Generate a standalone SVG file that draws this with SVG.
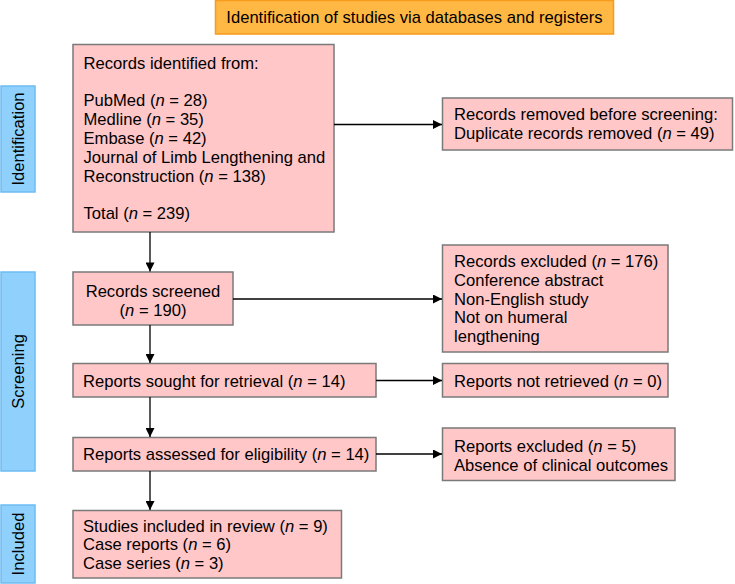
<svg xmlns="http://www.w3.org/2000/svg" width="735" height="584" viewBox="0 0 735 584">
<style>
text{font-family:"Liberation Sans",Arial,sans-serif;font-size:16.6px;fill:#000}
.box{fill:#ffc7c7;stroke:#7a7a7a;stroke-width:1.5}
.side{fill:#8fd0fd;stroke:#6cbcf3;stroke-width:1.5}
.title{fill:#ffb844;stroke:#f79a1e;stroke-width:1.5}
.conn{stroke:#000;stroke-width:1.3;fill:none;marker-end:url(#ah)}
.c{text-anchor:middle}
i,.it{font-style:italic}
</style>
<defs>
<marker id="ah" viewBox="0 0 10 10" refX="10" refY="5" markerWidth="10" markerHeight="9" markerUnits="userSpaceOnUse" orient="auto">
<path d="M0,0 L10,5 L0,10 Z" fill="#000"/>
</marker>
</defs>

<g id="title">
<rect class="title" x="215.5" y="0.5" width="398" height="33.5"/>
<text class="c" x="414.5" y="23">Identification of studies via databases and registers</text>
</g>

<g id="label-identification">
<rect class="side" x="1" y="86" width="34" height="106"/>
<text class="c" transform="translate(24,139) rotate(-90)">Identification</text>
</g>
<g id="label-screening">
<rect class="side" x="1" y="272" width="34" height="199"/>
<text class="c" transform="translate(24,371.5) rotate(-90)">Screening</text>
</g>
<g id="label-included">
<rect class="side" x="1" y="505" width="34" height="78"/>
<text class="c" transform="translate(24,544) rotate(-90)">Included</text>
</g>

<g id="records-identified">
<rect class="box" x="73" y="44.5" width="261" height="187.5"/>
<text x="83.5" y="69">Records identified from:</text>
<text x="83.5" y="106">PubMed (<tspan class="it">n</tspan> = 28)</text>
<text x="83.5" y="125">Medline (<tspan class="it">n</tspan> = 35)</text>
<text x="83.5" y="144">Embase (<tspan class="it">n</tspan> = 42)</text>
<text x="83.5" y="163">Journal of Limb Lengthening and</text>
<text x="83.5" y="181.5">Reconstruction (<tspan class="it">n</tspan> = 138)</text>
<text x="83.5" y="218.5">Total (<tspan class="it">n</tspan> = 239)</text>
</g>

<g id="records-removed">
<rect class="box" x="442.5" y="98" width="290" height="52"/>
<text x="454" y="120">Records removed before screening:</text>
<text x="454" y="139">Duplicate records removed (<tspan class="it">n</tspan> = 49)</text>
</g>

<g id="records-screened">
<rect class="box" x="73" y="272" width="160" height="53"/>
<text class="c" x="153" y="297">Records screened</text>
<text class="c" x="153" y="316">(<tspan class="it">n</tspan> = 190)</text>
</g>

<g id="records-excluded">
<rect class="box" x="442.5" y="245" width="225.5" height="107"/>
<text x="454" y="267">Records excluded (<tspan class="it">n</tspan> = 176)</text>
<text x="454" y="286">Conference abstract</text>
<text x="454" y="304.5">Non-English study</text>
<text x="454" y="323">Not on humeral</text>
<text x="454" y="341.5">lengthening</text>
</g>

<g id="reports-sought">
<rect class="box" x="73" y="363.5" width="303" height="33.5"/>
<text x="83" y="387">Reports sought for retrieval (<tspan class="it">n</tspan> = 14)</text>
</g>

<g id="reports-not-retrieved">
<rect class="box" x="442.5" y="363.5" width="225.5" height="33.5"/>
<text x="454" y="387">Reports not retrieved (<tspan class="it">n</tspan> = 0)</text>
</g>

<g id="reports-assessed">
<rect class="box" x="73" y="437.5" width="303" height="33.5"/>
<text x="83" y="459.5">Reports assessed for eligibility (<tspan class="it">n</tspan> = 14)</text>
</g>

<g id="reports-excluded">
<rect class="box" x="442.5" y="428" width="232.5" height="52.5"/>
<text x="454" y="452">Reports excluded (<tspan class="it">n</tspan> = 5)</text>
<text x="454" y="471">Absence of clinical outcomes</text>
</g>

<g id="studies-included">
<rect class="box" x="73" y="510.5" width="268.5" height="67.5"/>
<text x="83" y="531.5">Studies included in review (<tspan class="it">n</tspan> = 9)</text>
<text x="83" y="550">Case reports (<tspan class="it">n</tspan> = 6)</text>
<text x="83" y="569">Case series (<tspan class="it">n</tspan> = 3)</text>
</g>

<g id="connectors">
<line class="conn" x1="334" y1="124.5" x2="442" y2="124.5"/>
<line class="conn" x1="150" y1="232" x2="150" y2="271.5"/>
<line class="conn" x1="233" y1="299" x2="442" y2="299"/>
<line class="conn" x1="150" y1="325" x2="150" y2="363"/>
<line class="conn" x1="376" y1="380.5" x2="442" y2="380.5"/>
<line class="conn" x1="150" y1="397" x2="150" y2="437"/>
<line class="conn" x1="376" y1="454" x2="442" y2="454"/>
<line class="conn" x1="150" y1="471" x2="150" y2="510"/>
</g>
</svg>
